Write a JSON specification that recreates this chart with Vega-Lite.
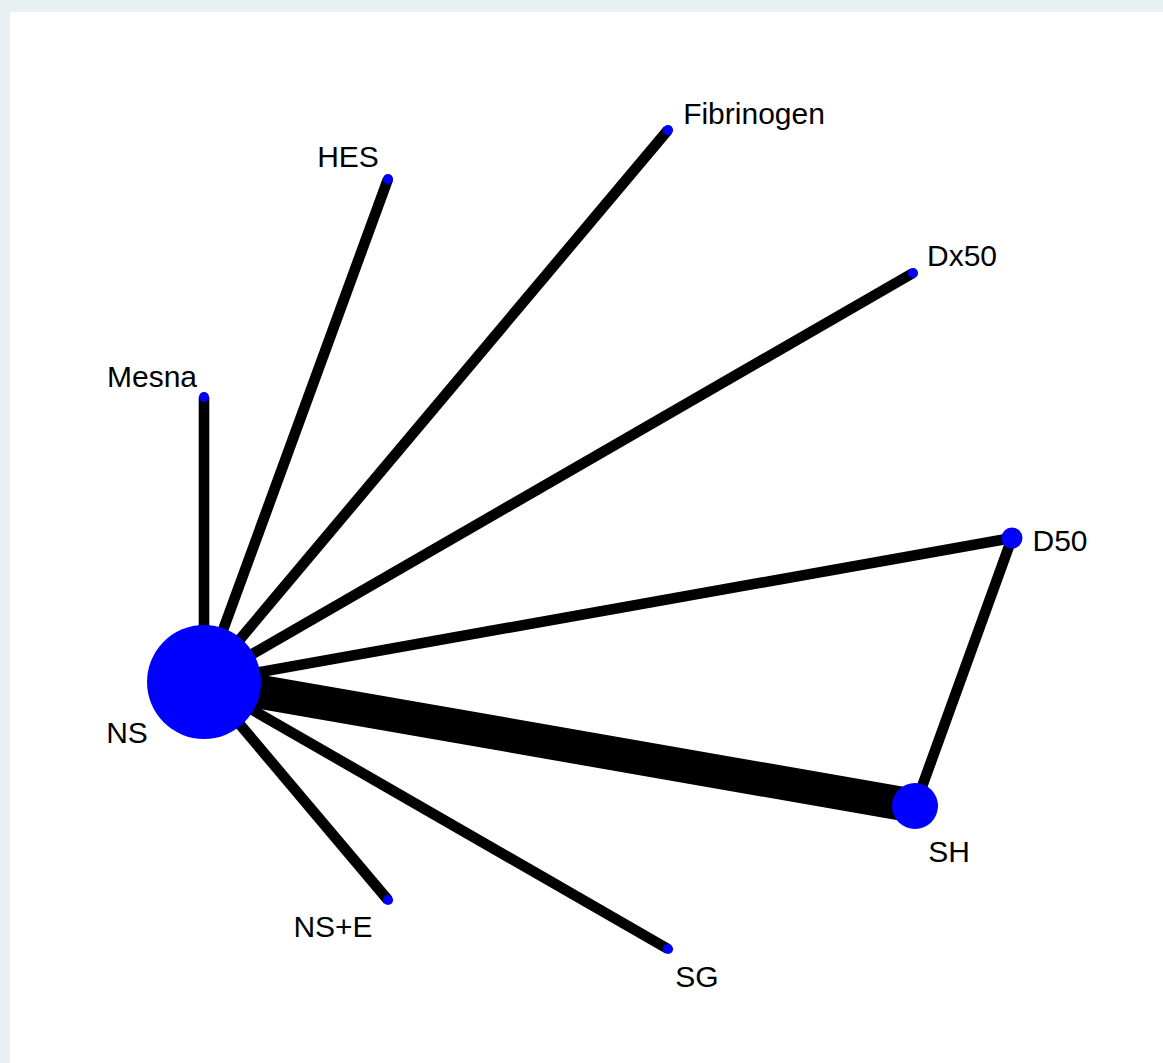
{
  "$schema": "https://vega.github.io/schema/vega-lite/v6.json",
  "width": 1153,
  "height": 1051,
  "autosize": {"type": "none"},
  "padding": {"left": 10, "top": 12, "right": 0, "bottom": 0},
  "background": "#e8f0f2",
  "config": {"view": {"fill": "white", "stroke": null}},
  "datasets": {
    "nodes": [
      {"name": "NS", "x": 204, "y": 381, "n": 1000, "lx": 127, "ly": 320},
      {"name": "Mesna", "x": 204, "y": 666, "n": 8, "lx": 152, "ly": 676},
      {"name": "HES", "x": 388, "y": 884, "n": 8, "lx": 348, "ly": 896},
      {"name": "Fibrinogen", "x": 668, "y": 933, "n": 8, "lx": 754, "ly": 939},
      {"name": "Dx50", "x": 913, "y": 790, "n": 8, "lx": 962, "ly": 797},
      {"name": "D50", "x": 1012, "y": 525, "n": 34, "lx": 1060, "ly": 512},
      {"name": "SH", "x": 915, "y": 257, "n": 163, "lx": 949, "ly": 201},
      {"name": "SG", "x": 668, "y": 114, "n": 8, "lx": 697, "ly": 76},
      {"name": "NS+E", "x": 388, "y": 163, "n": 8, "lx": 333, "ly": 126}
    ],
    "edges": [
      {"from": "NS", "to": "Mesna", "k": 1},
      {"from": "NS", "to": "HES", "k": 1},
      {"from": "NS", "to": "Fibrinogen", "k": 1},
      {"from": "NS", "to": "Dx50", "k": 1},
      {"from": "NS", "to": "D50", "k": 1},
      {"from": "NS", "to": "SH", "k": 3.2},
      {"from": "NS", "to": "SG", "k": 1},
      {"from": "NS", "to": "NS+E", "k": 1},
      {"from": "D50", "to": "SH", "k": 1}
    ]
  },
  "layer": [
    {
      "data": {"name": "edges"},
      "transform": [
        {"lookup": "from", "from": {"data": {"name": "nodes"}, "key": "name", "fields": ["x", "y"]}, "as": ["fx", "fy"]},
        {"lookup": "to", "from": {"data": {"name": "nodes"}, "key": "name", "fields": ["x", "y"]}, "as": ["tx", "ty"]}
      ],
      "mark": {"type": "rule", "color": "black", "strokeCap": "butt"},
      "encoding": {
        "x": {"field": "fx", "type": "quantitative", "scale": {"domain": [10, 1163]}, "axis": null},
        "y": {"field": "fy", "type": "quantitative", "scale": {"domain": [0, 1051]}, "axis": null},
        "x2": {"field": "tx"},
        "y2": {"field": "ty"},
        "strokeWidth": {"field": "k", "type": "quantitative", "scale": {"domain": [0, 3.2], "range": [0, 34], "nice": false}, "legend": null}
      }
    },
    {
      "data": {"name": "nodes"},
      "mark": {"type": "circle", "color": "#0000ff", "opacity": 1},
      "encoding": {
        "x": {"field": "x", "type": "quantitative", "scale": {"domain": [10, 1163]}, "axis": null},
        "y": {"field": "y", "type": "quantitative", "scale": {"domain": [0, 1051]}, "axis": null},
        "size": {"field": "n", "type": "quantitative", "scale": {"domain": [0, 1000], "range": [0, 12996]}, "legend": null}
      }
    },
    {
      "data": {"name": "nodes"},
      "mark": {"type": "text", "font": "Liberation Sans", "fontSize": 30, "color": "black", "align": "center", "baseline": "alphabetic"},
      "encoding": {
        "x": {"field": "lx", "type": "quantitative", "scale": {"domain": [10, 1163]}, "axis": null},
        "y": {"field": "ly", "type": "quantitative", "scale": {"domain": [0, 1051]}, "axis": null},
        "text": {"field": "name"}
      }
    }
  ]
}
